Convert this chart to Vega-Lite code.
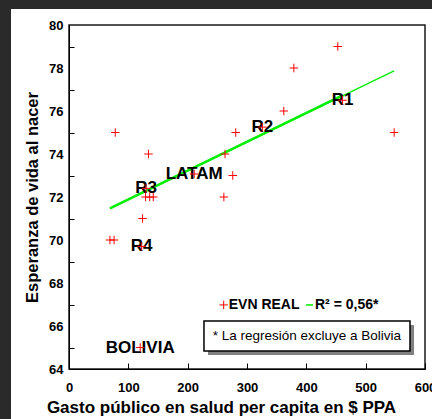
{
  "$schema": "https://vega.github.io/schema/vega-lite/v6.json",
  "width": 356,
  "height": 344,
  "autosize": {"type": "none"},
  "padding": {"left": 69, "top": 25, "right": 7, "bottom": 50},
  "background": "#2a2a2a",
  "config": {
    "view": {"stroke": null},
    "axis": {
      "grid": false,
      "domainColor": "#000000", "domainWidth": 1,
      "tickColor": "#000000", "tickWidth": 1,
      "labelFont": "Liberation Sans", "labelFontWeight": "bold", "labelFontSize": 13, "labelColor": "#000000",
      "titleFont": "Liberation Sans", "titleFontWeight": "bold", "titleColor": "#000000"
    },
    "axisX": {"titleFontSize": 17},
    "axisY": {"titleFontSize": 16.5},
    "text": {"font": "Liberation Sans"}
  },
  "datasets": {
    "paises": [
      {"gasto": 78, "evn": 75},
      {"gasto": 134, "evn": 74},
      {"gasto": 211, "evn": 73.07, "etiqueta": "LATAM"},
      {"gasto": 130, "evn": 72.4, "etiqueta": "R3"},
      {"gasto": 129, "evn": 72},
      {"gasto": 136, "evn": 72},
      {"gasto": 142, "evn": 72},
      {"gasto": 124, "evn": 71},
      {"gasto": 69, "evn": 70},
      {"gasto": 76, "evn": 70},
      {"gasto": 122.5, "evn": 69.7, "etiqueta": "R4"},
      {"gasto": 120, "evn": 65, "etiqueta": "BOLIVIA"},
      {"gasto": 453, "evn": 79},
      {"gasto": 379, "evn": 78},
      {"gasto": 461, "evn": 76.5, "etiqueta": "R1"},
      {"gasto": 362, "evn": 76},
      {"gasto": 326, "evn": 75.25, "etiqueta": "R2"},
      {"gasto": 281, "evn": 75},
      {"gasto": 548, "evn": 75},
      {"gasto": 263, "evn": 74},
      {"gasto": 276, "evn": 73},
      {"gasto": 261, "evn": 72}
    ],
    "ajuste": [
      {"gasto": 69, "evn": 71.47, "tramo": "completo"},
      {"gasto": 548, "evn": 77.87, "tramo": "completo"},
      {"gasto": 69, "evn": 71.47, "tramo": "central"},
      {"gasto": 460, "evn": 76.71, "tramo": "central"}
    ]
  },
  "layer": [
    {
      "data": {"values": [{}]},
      "mark": {"type": "rect", "color": "#ffffff", "clip": false},
      "encoding": {
        "x": {"datum": -97.75, "type": "quantitative", "scale": {"domain": [0, 600], "nice": false},
          "axis": {"zindex": 1, "title": "Gasto público en salud per  capita en $ PPA", "values": [0, 100, 200, 300, 400, 500, 600], "tickSize": -6, "labelPadding": 18, "titlePadding": 5, "titleX": 152, "labelFlush": false, "labelOverlap": false}},
        "x2": {"datum": 800},
        "y": {"datum": 80.74, "type": "quantitative", "scale": {"domain": [64, 80], "nice": false},
          "axis": {"zindex": 1, "title": "Esperanza de vida al nacer", "values": [64, 65, 66, 67, 68, 69, 70, 71, 72, 73, 74, 75, 76, 77, 78, 79, 80], "tickSize": -5, "tickOpacity": {"condition": {"test": "datum.value % 2 === 0", "value": 0}, "value": 1}, "labelExpr": "datum.value % 2 === 0 ? datum.label : ''", "labelPadding": 11, "titlePadding": 8, "labelOverlap": false}},
        "y2": {"datum": 50}
      }
    },
    {
      "data": {"values": [{}]},
      "mark": {"type": "rect", "fillOpacity": 0, "stroke": "#1a1a1a", "strokeWidth": 1.5},
      "encoding": {
        "x": {"datum": 0, "type": "quantitative", "scale": {"domain": [0, 600], "nice": false},
          "axis": {"zindex": 1, "title": "Gasto público en salud per  capita en $ PPA", "values": [0, 100, 200, 300, 400, 500, 600], "tickSize": -6, "labelPadding": 18, "titlePadding": 5, "titleX": 152, "labelFlush": false, "labelOverlap": false}},
        "x2": {"datum": 600},
        "y": {"datum": 80, "type": "quantitative", "scale": {"domain": [64, 80], "nice": false},
          "axis": {"zindex": 1, "title": "Esperanza de vida al nacer", "values": [64, 65, 66, 67, 68, 69, 70, 71, 72, 73, 74, 75, 76, 77, 78, 79, 80], "tickSize": -5, "tickOpacity": {"condition": {"test": "datum.value % 2 === 0", "value": 0}, "value": 1}, "labelExpr": "datum.value % 2 === 0 ? datum.label : ''", "labelPadding": 11, "titlePadding": 8, "labelOverlap": false}},
        "y2": {"datum": 64}
      }
    },
    {
      "data": {"values": [{}]},
      "mark": {"type": "rect", "color": "#808080"},
      "encoding": {
        "x": {"datum": 234.3, "type": "quantitative", "scale": {"domain": [0, 600], "nice": false},
          "axis": {"zindex": 1, "title": "Gasto público en salud per  capita en $ PPA", "values": [0, 100, 200, 300, 400, 500, 600], "tickSize": -6, "labelPadding": 18, "titlePadding": 5, "titleX": 152, "labelFlush": false, "labelOverlap": false}},
        "x2": {"datum": 581.5},
        "y": {"datum": 66.05, "type": "quantitative", "scale": {"domain": [64, 80], "nice": false},
          "axis": {"zindex": 1, "title": "Esperanza de vida al nacer", "values": [64, 65, 66, 67, 68, 69, 70, 71, 72, 73, 74, 75, 76, 77, 78, 79, 80], "tickSize": -5, "tickOpacity": {"condition": {"test": "datum.value % 2 === 0", "value": 0}, "value": 1}, "labelExpr": "datum.value % 2 === 0 ? datum.label : ''", "labelPadding": 11, "titlePadding": 8, "labelOverlap": false}},
        "y2": {"datum": 64.65}
      }
    },
    {
      "data": {"values": [{}]},
      "mark": {"type": "rect", "fill": "#ffffff", "stroke": "#000000", "strokeWidth": 1.5},
      "encoding": {
        "x": {"datum": 227.5, "type": "quantitative", "scale": {"domain": [0, 600], "nice": false},
          "axis": {"zindex": 1, "title": "Gasto público en salud per  capita en $ PPA", "values": [0, 100, 200, 300, 400, 500, 600], "tickSize": -6, "labelPadding": 18, "titlePadding": 5, "titleX": 152, "labelFlush": false, "labelOverlap": false}},
        "x2": {"datum": 574.7},
        "y": {"datum": 66.23, "type": "quantitative", "scale": {"domain": [64, 80], "nice": false},
          "axis": {"zindex": 1, "title": "Esperanza de vida al nacer", "values": [64, 65, 66, 67, 68, 69, 70, 71, 72, 73, 74, 75, 76, 77, 78, 79, 80], "tickSize": -5, "tickOpacity": {"condition": {"test": "datum.value % 2 === 0", "value": 0}, "value": 1}, "labelExpr": "datum.value % 2 === 0 ? datum.label : ''", "labelPadding": 11, "titlePadding": 8, "labelOverlap": false}},
        "y2": {"datum": 64.84}
      }
    },
    {
      "data": {"values": [{"nota": "* La regresión excluye a Bolivia"}]},
      "mark": {"type": "text", "fontSize": 13.5, "color": "#000000", "align": "center", "baseline": "middle"},
      "encoding": {
        "x": {"datum": 401, "type": "quantitative", "scale": {"domain": [0, 600], "nice": false},
          "axis": {"zindex": 1, "title": "Gasto público en salud per  capita en $ PPA", "values": [0, 100, 200, 300, 400, 500, 600], "tickSize": -6, "labelPadding": 18, "titlePadding": 5, "titleX": 152, "labelFlush": false, "labelOverlap": false}},
        "y": {"datum": 65.53, "type": "quantitative", "scale": {"domain": [64, 80], "nice": false},
          "axis": {"zindex": 1, "title": "Esperanza de vida al nacer", "values": [64, 65, 66, 67, 68, 69, 70, 71, 72, 73, 74, 75, 76, 77, 78, 79, 80], "tickSize": -5, "tickOpacity": {"condition": {"test": "datum.value % 2 === 0", "value": 0}, "value": 1}, "labelExpr": "datum.value % 2 === 0 ? datum.label : ''", "labelPadding": 11, "titlePadding": 8, "labelOverlap": false}},
        "text": {"field": "nota"}
      }
    },
    {
      "data": {"name": "ajuste"},
      "transform": [{"filter": "datum.tramo === 'completo'"}],
      "mark": {"type": "line", "color": "#00ee00", "strokeWidth": 1.3},
      "encoding": {
        "x": {"field": "gasto", "type": "quantitative", "scale": {"domain": [0, 600], "nice": false},
          "axis": {"zindex": 1, "title": "Gasto público en salud per  capita en $ PPA", "values": [0, 100, 200, 300, 400, 500, 600], "tickSize": -6, "labelPadding": 18, "titlePadding": 5, "titleX": 152, "labelFlush": false, "labelOverlap": false}},
        "y": {"field": "evn", "type": "quantitative", "scale": {"domain": [64, 80], "nice": false},
          "axis": {"zindex": 1, "title": "Esperanza de vida al nacer", "values": [64, 65, 66, 67, 68, 69, 70, 71, 72, 73, 74, 75, 76, 77, 78, 79, 80], "tickSize": -5, "tickOpacity": {"condition": {"test": "datum.value % 2 === 0", "value": 0}, "value": 1}, "labelExpr": "datum.value % 2 === 0 ? datum.label : ''", "labelPadding": 11, "titlePadding": 8, "labelOverlap": false}}
      }
    },
    {
      "data": {"name": "ajuste"},
      "transform": [{"filter": "datum.tramo === 'central'"}],
      "mark": {"type": "line", "color": "#00ee00", "strokeWidth": 2.5},
      "encoding": {
        "x": {"field": "gasto", "type": "quantitative", "scale": {"domain": [0, 600], "nice": false},
          "axis": {"zindex": 1, "title": "Gasto público en salud per  capita en $ PPA", "values": [0, 100, 200, 300, 400, 500, 600], "tickSize": -6, "labelPadding": 18, "titlePadding": 5, "titleX": 152, "labelFlush": false, "labelOverlap": false}},
        "y": {"field": "evn", "type": "quantitative", "scale": {"domain": [64, 80], "nice": false},
          "axis": {"zindex": 1, "title": "Esperanza de vida al nacer", "values": [64, 65, 66, 67, 68, 69, 70, 71, 72, 73, 74, 75, 76, 77, 78, 79, 80], "tickSize": -5, "tickOpacity": {"condition": {"test": "datum.value % 2 === 0", "value": 0}, "value": 1}, "labelExpr": "datum.value % 2 === 0 ? datum.label : ''", "labelPadding": 11, "titlePadding": 8, "labelOverlap": false}}
      }
    },
    {
      "data": {"name": "paises"},
      "transform": [{"filter": "datum.etiqueta"}],
      "mark": {"type": "text", "fontSize": 17, "fontWeight": "bold", "color": "#000000", "align": "center", "baseline": "middle"},
      "encoding": {
        "x": {"field": "gasto", "type": "quantitative", "scale": {"domain": [0, 600], "nice": false},
          "axis": {"zindex": 1, "title": "Gasto público en salud per  capita en $ PPA", "values": [0, 100, 200, 300, 400, 500, 600], "tickSize": -6, "labelPadding": 18, "titlePadding": 5, "titleX": 152, "labelFlush": false, "labelOverlap": false}},
        "y": {"field": "evn", "type": "quantitative", "scale": {"domain": [64, 80], "nice": false},
          "axis": {"zindex": 1, "title": "Esperanza de vida al nacer", "values": [64, 65, 66, 67, 68, 69, 70, 71, 72, 73, 74, 75, 76, 77, 78, 79, 80], "tickSize": -5, "tickOpacity": {"condition": {"test": "datum.value % 2 === 0", "value": 0}, "value": 1}, "labelExpr": "datum.value % 2 === 0 ? datum.label : ''", "labelPadding": 11, "titlePadding": 8, "labelOverlap": false}},
        "text": {"field": "etiqueta"}
      }
    },
    {
      "data": {"name": "paises"},
      "mark": {"type": "point", "shape": "M-1,0H1M0,-1V1", "filled": false, "stroke": "#ff0000", "strokeWidth": 1, "size": 72, "opacity": 1},
      "encoding": {
        "x": {"field": "gasto", "type": "quantitative", "scale": {"domain": [0, 600], "nice": false},
          "axis": {"zindex": 1, "title": "Gasto público en salud per  capita en $ PPA", "values": [0, 100, 200, 300, 400, 500, 600], "tickSize": -6, "labelPadding": 18, "titlePadding": 5, "titleX": 152, "labelFlush": false, "labelOverlap": false}},
        "y": {"field": "evn", "type": "quantitative", "scale": {"domain": [64, 80], "nice": false},
          "axis": {"zindex": 1, "title": "Esperanza de vida al nacer", "values": [64, 65, 66, 67, 68, 69, 70, 71, 72, 73, 74, 75, 76, 77, 78, 79, 80], "tickSize": -5, "tickOpacity": {"condition": {"test": "datum.value % 2 === 0", "value": 0}, "value": 1}, "labelExpr": "datum.value % 2 === 0 ? datum.label : ''", "labelPadding": 11, "titlePadding": 8, "labelOverlap": false}}
      }
    },
    {
      "data": {"values": [{}]},
      "mark": {"type": "point", "shape": "M-1,0H1M0,-1V1", "filled": false, "stroke": "#ff0000", "strokeWidth": 1, "size": 72, "opacity": 1},
      "encoding": {
        "x": {"datum": 260.7, "type": "quantitative", "scale": {"domain": [0, 600], "nice": false},
          "axis": {"zindex": 1, "title": "Gasto público en salud per  capita en $ PPA", "values": [0, 100, 200, 300, 400, 500, 600], "tickSize": -6, "labelPadding": 18, "titlePadding": 5, "titleX": 152, "labelFlush": false, "labelOverlap": false}},
        "y": {"datum": 66.98, "type": "quantitative", "scale": {"domain": [64, 80], "nice": false},
          "axis": {"zindex": 1, "title": "Esperanza de vida al nacer", "values": [64, 65, 66, 67, 68, 69, 70, 71, 72, 73, 74, 75, 76, 77, 78, 79, 80], "tickSize": -5, "tickOpacity": {"condition": {"test": "datum.value % 2 === 0", "value": 0}, "value": 1}, "labelExpr": "datum.value % 2 === 0 ? datum.label : ''", "labelPadding": 11, "titlePadding": 8, "labelOverlap": false}}
      }
    },
    {
      "data": {"values": [{}]},
      "mark": {"type": "rule", "color": "#00ee00", "strokeWidth": 1.5},
      "encoding": {
        "x": {"datum": 399.5, "type": "quantitative", "scale": {"domain": [0, 600], "nice": false},
          "axis": {"zindex": 1, "title": "Gasto público en salud per  capita en $ PPA", "values": [0, 100, 200, 300, 400, 500, 600], "tickSize": -6, "labelPadding": 18, "titlePadding": 5, "titleX": 152, "labelFlush": false, "labelOverlap": false}},
        "x2": {"datum": 411.3},
        "y": {"datum": 66.98, "type": "quantitative", "scale": {"domain": [64, 80], "nice": false},
          "axis": {"zindex": 1, "title": "Esperanza de vida al nacer", "values": [64, 65, 66, 67, 68, 69, 70, 71, 72, 73, 74, 75, 76, 77, 78, 79, 80], "tickSize": -5, "tickOpacity": {"condition": {"test": "datum.value % 2 === 0", "value": 0}, "value": 1}, "labelExpr": "datum.value % 2 === 0 ? datum.label : ''", "labelPadding": 11, "titlePadding": 8, "labelOverlap": false}}
      }
    },
    {
      "data": {"values": [{"texto": "EVN REAL", "pos": 269.2}, {"texto": "R² = 0,56*", "pos": 414.6}]},
      "mark": {"type": "text", "fontSize": 14, "fontWeight": "bold", "color": "#000000", "align": "left", "baseline": "middle"},
      "encoding": {
        "x": {"field": "pos", "type": "quantitative", "scale": {"domain": [0, 600], "nice": false},
          "axis": {"zindex": 1, "title": "Gasto público en salud per  capita en $ PPA", "values": [0, 100, 200, 300, 400, 500, 600], "tickSize": -6, "labelPadding": 18, "titlePadding": 5, "titleX": 152, "labelFlush": false, "labelOverlap": false}},
        "y": {"datum": 66.98, "type": "quantitative", "scale": {"domain": [64, 80], "nice": false},
          "axis": {"zindex": 1, "title": "Esperanza de vida al nacer", "values": [64, 65, 66, 67, 68, 69, 70, 71, 72, 73, 74, 75, 76, 77, 78, 79, 80], "tickSize": -5, "tickOpacity": {"condition": {"test": "datum.value % 2 === 0", "value": 0}, "value": 1}, "labelExpr": "datum.value % 2 === 0 ? datum.label : ''", "labelPadding": 11, "titlePadding": 8, "labelOverlap": false}},
        "text": {"field": "texto"}
      }
    }
  ]
}
